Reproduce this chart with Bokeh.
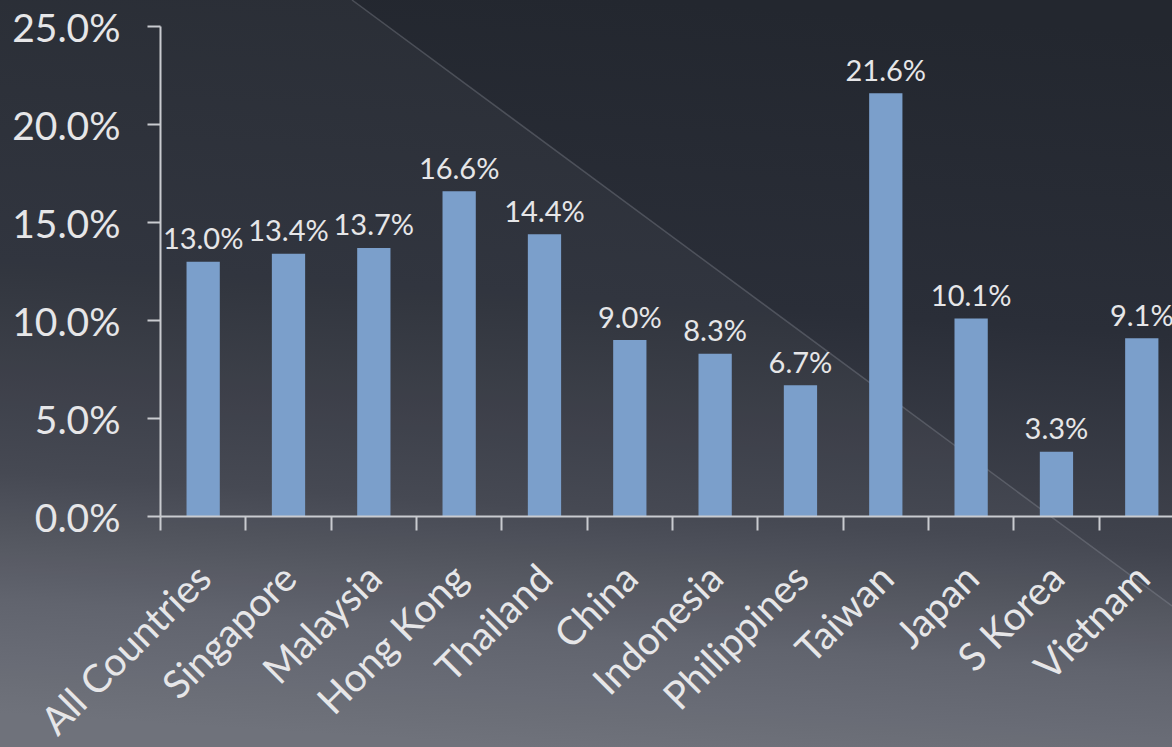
import math
import urllib.parse
from bokeh.plotting import figure
from bokeh.models import FixedTicker, PrintfTickFormatter, Range1d, ColumnDataSource
from bokeh.core.properties import value
from bokeh.embed import file_html
from bokeh.resources import INLINE

categories = ["All Countries", "Singapore", "Malaysia", "Hong Kong", "Thailand", "China",
              "Indonesia", "Philippines", "Taiwan", "Japan", "S Korea", "Vietnam"]
values = [13.0, 13.4, 13.7, 16.6, 14.4, 9.0, 8.3, 6.7, 21.6, 10.1, 3.3, 9.1]
y_ticks = [0, 5, 10, 15, 20, 25]

centers = [i + 0.5 for i in range(len(categories))]
boundaries = list(range(len(categories)))
labels = [f"{v:.1f}%" for v in values]

src = ColumnDataSource(dict(x=centers, top=values, label=labels))

FONT = "Lato"
TXT = "#e6e6e8"
AX = "#c9cbd0"

p = figure(frame_width=1012, frame_height=490,
           x_range=Range1d(0, 11.86), y_range=Range1d(0, 25),
           output_backend="svg", toolbar_location=None,
           min_border_left=160, min_border_top=26, min_border_right=0, min_border_bottom=10)

p.background_fill_color = None
p.border_fill_color = None
p.outline_line_color = None
p.xgrid.grid_line_color = None
p.ygrid.grid_line_color = None

p.vbar(x="x", top="top", width=0.39, bottom=0, source=src,
       fill_color="#7b9fcb", line_color=None)
p.text(x="x", y="top", text="label", source=src, text_align="center",
       text_baseline="alphabetic", y_offset=-24, text_color=TXT,
       text_font=value(FONT), text_font_size="29px")

xa = p.xaxis[0]
xa.ticker = FixedTicker(ticks=centers, minor_ticks=boundaries)
xa.major_label_overrides = {c: n for c, n in zip(centers, categories)}
xa.major_tick_out = 0
xa.major_tick_in = 0
xa.minor_tick_out = 14
xa.minor_tick_in = 0
xa.minor_tick_line_color = AX
xa.minor_tick_line_width = 2
xa.axis_line_color = AX
xa.axis_line_width = 2
xa.major_label_orientation = math.pi / 4
xa.major_label_standoff = 40
xa.major_label_text_font = FONT
xa.major_label_text_font_size = "39px"
xa.major_label_text_color = TXT

ya = p.yaxis[0]
ya.ticker = FixedTicker(ticks=y_ticks)
ya.formatter = PrintfTickFormatter(format="%.1f%%")
ya.major_tick_out = 13
ya.major_tick_in = 0
ya.major_tick_line_color = AX
ya.major_tick_line_width = 2
ya.minor_tick_line_color = None
ya.axis_line_color = AX
ya.axis_line_width = 2
ya.major_label_standoff = 27
ya.major_label_text_font = FONT
ya.major_label_text_font_size = "39px"
ya.major_label_text_color = TXT

bg_svg = (
    "<svg xmlns='http://www.w3.org/2000/svg' width='1172' height='747' viewBox='0 0 1172 747'>"
    "<defs><linearGradient id='g' x1='0.55' y1='0' x2='0.45' y2='1'>"
    "<stop offset='0' stop-color='#23272f'/>"
    "<stop offset='0.4' stop-color='#2a2e38'/>"
    "<stop offset='0.68' stop-color='#40434d'/>"
    "<stop offset='0.85' stop-color='#5c5f69'/>"
    "<stop offset='1' stop-color='#6a6d77'/>"
    "</linearGradient></defs>"
    "<rect width='1172' height='747' fill='url(#g)'/>"
    "<polygon points='352,0 1172,606 1172,747 0,747 0,0' fill='#ffffff' fill-opacity='0.035'/>"
    "<line x1='352' y1='0' x2='1172' y2='606' stroke='#a0a3ac' stroke-opacity='0.3' stroke-width='1.5'/>"
    "</svg>"
)
bg_uri = "data:image/svg+xml," + urllib.parse.quote(bg_svg)

TEMPLATE = ("{% block postamble %}<style>html { background: #2a2e38 url(\"" + bg_uri +
            "\") no-repeat 0 0; background-size: 1172px 747px; overflow: hidden; } "
            "body { background: transparent; overflow: hidden; }</style>{% endblock %}\n")

open("out.html", "w").write(file_html(p, INLINE, template=TEMPLATE))
